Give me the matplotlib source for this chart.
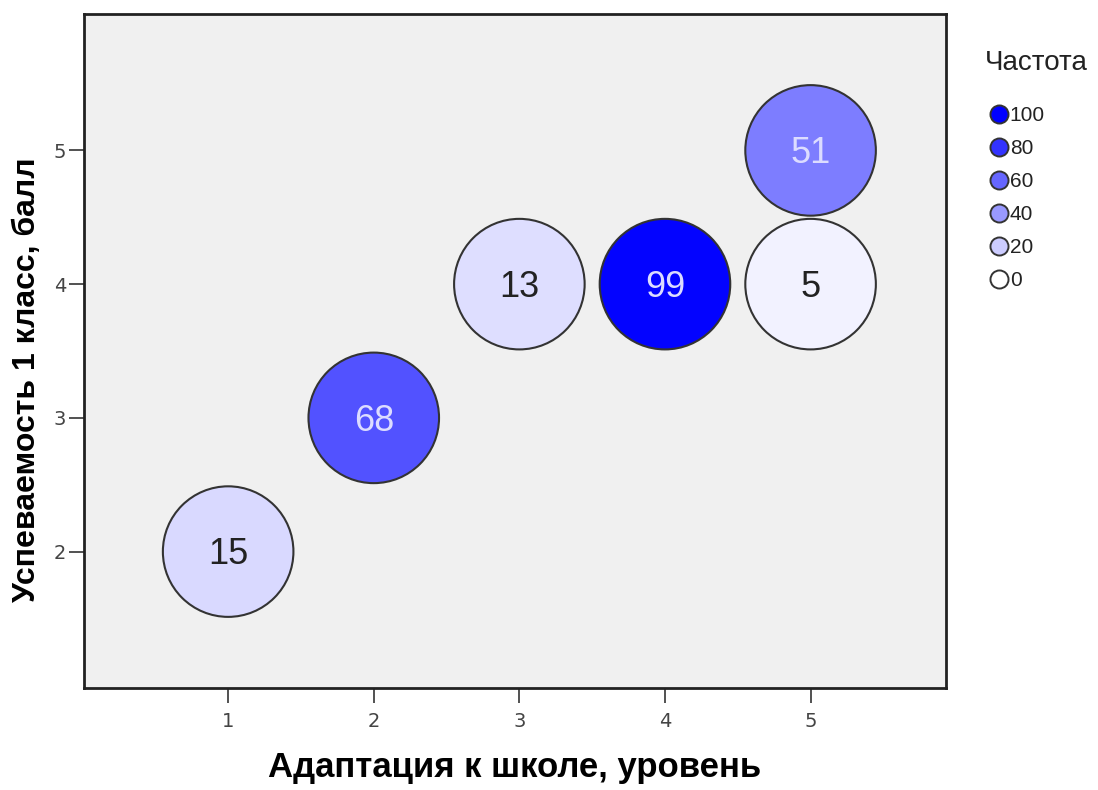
import matplotlib
matplotlib.use("Agg")
import matplotlib.pyplot as plt
from matplotlib.lines import Line2D

# Data
adaptation = [1, 2, 3, 4, 5, 5]
performance = [2, 3, 4, 4, 4, 5]
frequency = [15, 68, 13, 99, 5, 51]
x_ticks = [1, 2, 3, 4, 5]
y_ticks = [2, 3, 4, 5]
legend_values = [100, 80, 60, 40, 20, 0]
x_label = "Адаптация к школе, уровень"
y_label = "Успеваемость 1 класс, балл"
legend_title = "Частота"

reg = ["Liberation Sans", "DejaVu Sans"]


def freq_color(v):
    c = 1.0 - v / 100.0
    return (c, c, 1.0)


fig = plt.figure(figsize=(10.98, 7.90), dpi=100)
ax = fig.add_axes([84 / 1098, 1 - 688 / 790, (946 - 84) / 1098, (688 - 14) / 790])
ax.set_facecolor("#f0f0f0")

ax.set_xlim(0.01, 5.93)
ax.set_ylim(0.98, 6.02)

cols = [freq_color(v) for v in frequency]
ax.scatter(adaptation, performance, s=94 ** 2, c=cols, edgecolors="#333333",
           linewidths=1.5, zorder=3)
for x, y, v in zip(adaptation, performance, frequency):
    tc = "#dcdcff" if v > 40 else "#222222"
    ax.text(x, y - 0.025, str(v), ha="center", va="center", fontsize=26, color=tc,
            family=reg, zorder=4)

ax.set_xticks(x_ticks)
ax.set_yticks(y_ticks)
ax.tick_params(direction="out", length=11, width=1.2, color="#333333",
               labelsize=14, labelcolor="#444444")
ax.tick_params(axis="x", pad=6)
ax.tick_params(axis="y", pad=2)
for s in ax.spines.values():
    s.set_linewidth(2)
    s.set_color("#222222")

ax.set_xlabel(x_label, fontsize=25, fontweight="bold", family=reg)
ax.xaxis.set_label_coords(0.5, -(767 - 688) / 674, transform=ax.transAxes)
ax.set_ylabel(y_label, fontsize=23, fontweight="bold", family=reg)
ax.yaxis.set_label_coords(-(84 - 27) / 862, (688 - 380) / 674)
ax.yaxis.label.set_va("center")
ax.xaxis.label.set_va("center")

fig.text(985 / 1098, 1 - 63 / 790, legend_title, fontsize=20, family=reg,
         ha="left", va="center", color="#222222")
handles = [Line2D([], [], linestyle="none", marker="o", markersize=13,
                  markerfacecolor=freq_color(v), markeredgecolor="#333333",
                  markeredgewidth=1.4) for v in legend_values]
leg = fig.legend(handles, [str(v) for v in legend_values],
                 loc="upper left", bbox_to_anchor=(990 / 1098, 1 - 106 / 790),
                 frameon=False, handlelength=0.9, handletextpad=0.05,
                 labelspacing=0.67, borderaxespad=0, borderpad=0,
                 prop={"family": reg, "size": 15})
for t in leg.get_texts():
    t.set_color("#222222")

fig.savefig("out.png", dpi=100)
